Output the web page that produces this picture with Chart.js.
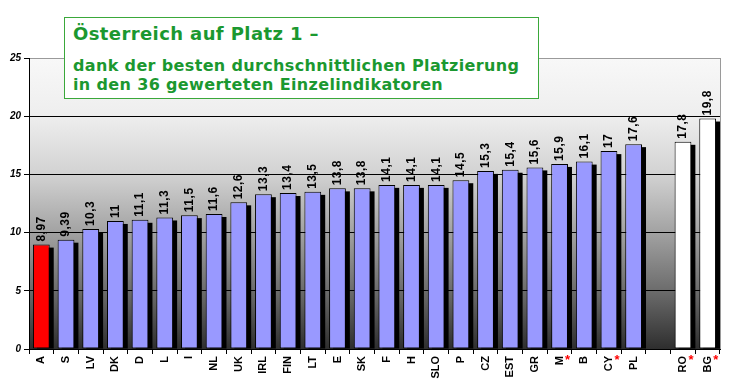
<!DOCTYPE html>
<html>
<head>
<meta charset="utf-8">
<script src="https://cdn.jsdelivr.net/npm/chart.js@4.4.0/dist/chart.umd.min.js"></script>
<style>
  html, body { margin: 0; padding: 0; background: #fff; }
  #wrap { position: relative; width: 735px; height: 392px; }
  #box {
    position: absolute; left: 64px; top: 17px; width: 473px; height: 80px;
    border: 1.5px solid #3aa83a; background: #fff; color: #1b9830;
    font-family: "DejaVu Sans", Verdana, sans-serif; font-weight: bold;
    box-sizing: content-box;
  }
  #box .t1 { position: absolute; left: 8px; top: 5px; font-size: 18px; letter-spacing: 0.4px; white-space: nowrap; }
  #box .t2 { position: absolute; left: 8px; top: 38px; font-size: 16px; letter-spacing: 0.35px; line-height: 19px; white-space: nowrap; }
</style>
</head>
<body>
<div id="wrap">
  <canvas id="chart" width="735" height="392"></canvas>
  <div id="box">
    <div class="t1">Österreich auf Platz 1 –</div>
    <div class="t2">dank der besten durchschnittlichen Platzierung<br>in den 36 gewerteten Einzelindikatoren</div>
  </div>
</div>
<script>
// countries, with an empty slot before the two candidate countries
const countries = ['A', 'S', 'LV', 'DK', 'D', 'L', 'I', 'NL', 'UK', 'IRL', 'FIN', 'LT', 'E', 'SK', 'F', 'H', 'SLO', 'P', 'CZ', 'EST', 'GR', 'M', 'B', 'CY', 'PL', '', 'RO', 'BG'];
const ranks = [8.97, 9.39, 10.3, 11, 11.1, 11.3, 11.5, 11.6, 12.6, 13.3, 13.4, 13.5, 13.8, 13.8, 14.1, 14.1, 14.1, 14.5, 15.3, 15.4, 15.6, 15.9, 16.1, 17, 17.6, null, 17.8, 19.8];
const starred = ['M', 'CY', 'RO', 'BG'];
const yTicks = [0, 5, 10, 15, 20, 25];

function barColor(c) {
  if (c === 'A') return '#ff0000';
  if (c === 'RO' || c === 'BG') return '#ffffff';
  return '#9999ff';
}

const plotBg = {
  id: 'plotBg',
  beforeDraw(chart) {
    const { ctx, chartArea: a } = chart;
    const g = ctx.createLinearGradient(0, a.top, 0, a.bottom);
    g.addColorStop(0, '#f8f8f8');
    g.addColorStop(0.2, '#eeeeee');
    g.addColorStop(0.4, '#d2d2d2');
    g.addColorStop(0.6, '#a2a2a2');
    g.addColorStop(0.8, '#6c6c6c');
    g.addColorStop(1, '#2e2e2e');
    ctx.save();
    ctx.fillStyle = g;
    ctx.fillRect(a.left, a.top, a.right - a.left, a.bottom - a.top);
    ctx.restore();
  },
  afterDraw(chart) {
    const { ctx, chartArea: a } = chart;
    ctx.save();
    ctx.strokeStyle = '#9a9a9a';
    ctx.lineWidth = 1;
    ctx.beginPath();
    ctx.moveTo(a.right + 0.5, a.top);
    ctx.lineTo(a.right + 0.5, a.bottom);
    ctx.stroke();
    // red asterisks after some labels
    const xs = chart.scales.x;
    ctx.fillStyle = '#ff0000';
    ctx.font = 'bold 13px "Liberation Sans", Arial, sans-serif';
    ctx.textAlign = 'center';
    ctx.textBaseline = 'middle';
    countries.forEach((c, i) => {
      if (starred.includes(c)) {
        ctx.fillText('*', xs.getPixelForValue(i) + 8, a.bottom + 11);
      }
    });
    ctx.restore();
  }
};

const barExtras = {
  id: 'barExtras',
  beforeDatasetsDraw(chart) {
    const { ctx } = chart;
    const meta = chart.getDatasetMeta(0);
    ctx.save();
    ctx.fillStyle = '#000';
    meta.data.forEach((el, i) => {
      if (ranks[i] == null) return;
      const p = el.getProps(['x', 'y', 'base', 'width'], true);
      ctx.fillRect(p.x - p.width / 2 + 4, p.y + 3, p.width, p.base - p.y - 3);
    });
    ctx.restore();
  },
  afterDatasetsDraw(chart) {
    const { ctx } = chart;
    const meta = chart.getDatasetMeta(0);
    ctx.save();
    ctx.fillStyle = '#000';
    ctx.font = 'bold 12px "Liberation Sans", Arial, sans-serif';
    ctx.letterSpacing = '0.5px';
    ctx.textAlign = 'left';
    ctx.textBaseline = 'middle';
    meta.data.forEach((el, i) => {
      if (ranks[i] == null) return;
      const p = el.getProps(['x', 'y'], true);
      ctx.save();
      ctx.translate(p.x, p.y - 3);
      ctx.rotate(-Math.PI / 2);
      ctx.fillText(String(ranks[i]).replace('.', ','), 0, 0);
      ctx.restore();
    });
    ctx.restore();
  }
};

new Chart(document.getElementById('chart'), {
  type: 'bar',
  data: {
    labels: countries,
    datasets: [{
      data: ranks,
      backgroundColor: countries.map(barColor),
      borderColor: '#000',
      borderWidth: 1,
      borderSkipped: false,
      barPercentage: 0.68,
      categoryPercentage: 1
    }]
  },
  options: {
    responsive: false,
    animation: false,
    layout: { padding: { top: 58, right: 15, left: 0, bottom: 0 } },
    plugins: { legend: { display: false }, tooltip: { enabled: false } },
    scales: {
      x: {
        afterFit(s) { s.height = 43; },
        grid: { drawOnChartArea: false, offset: true, tickLength: 5, color: '#000' },
        border: { color: '#000', width: 1 },
        ticks: {
          autoSkip: false, minRotation: 90, maxRotation: 90, padding: 2,
          color: '#000', font: { family: '"Liberation Sans", Arial, sans-serif', size: 11, weight: 'bold' }
        }
      },
      y: {
        min: 0, max: 25,
        afterFit(s) { s.width = 29; },
        afterBuildTicks(s) { s.ticks = yTicks.map(v => ({ value: v })); },
        grid: {
          color: ctx => ctx.tick && ctx.tick.value === 25 ? '#9a9a9a' : '#000',
          tickColor: '#000', tickLength: 5, lineWidth: 1
        },
        border: { color: '#000', width: 1 },
        ticks: {
          padding: 3, color: '#000',
          font: { family: '"Liberation Sans", Arial, sans-serif', size: 10, weight: 'bold', style: 'italic' }
        }
      }
    }
  },
  plugins: [plotBg, barExtras]
});
</script>
</body>
</html>
